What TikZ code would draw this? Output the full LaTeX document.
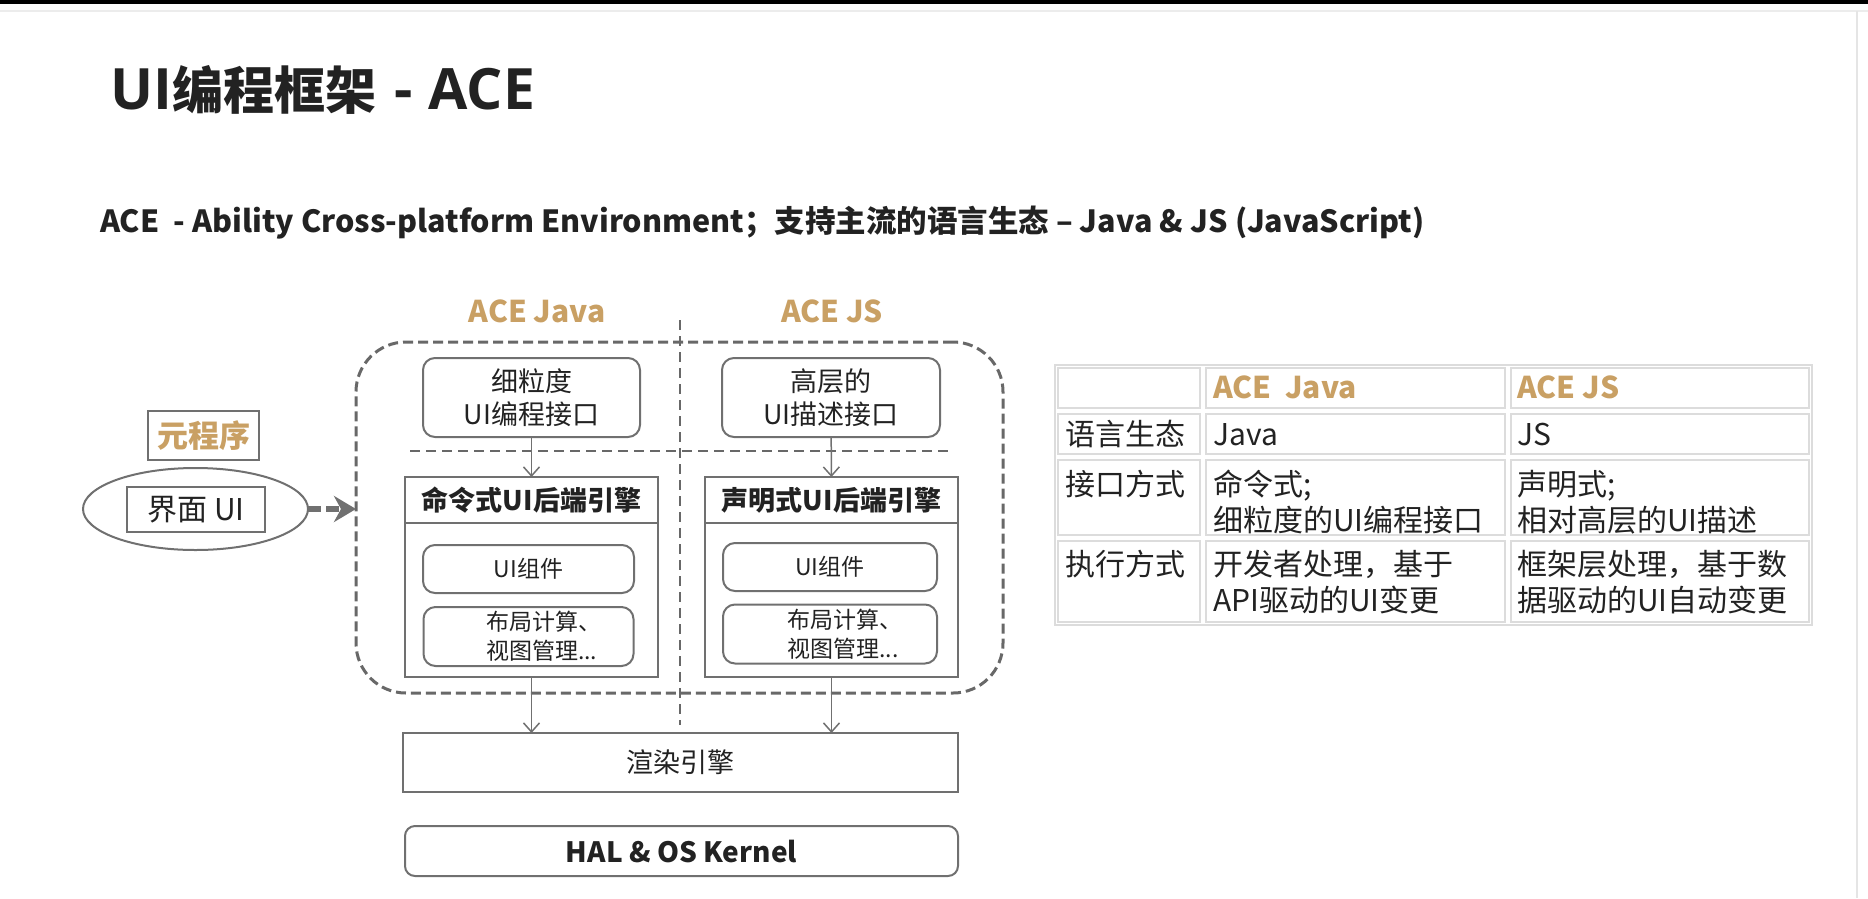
\documentclass[tikz,border=0pt]{standalone}
\usepackage{fontspec}
\setmainfont{Noto Sans CJK SC}
\newfontfamily\latinsans{Open Sans}
\usetikzlibrary{arrows.meta,shapes.geometric,positioning}

\definecolor{linegray}{HTML}{707070}
\definecolor{dashgray}{HTML}{686868}
\definecolor{acegold}{HTML}{C9A064}
\definecolor{cellgray}{HTML}{DCDCDC}
\definecolor{inkblack}{HTML}{222222}

\newcommand{\pxfont}[2]{\fontsize{#1}{#2}\selectfont}

\tikzset{
  box/.style={draw=linegray, line width=2pt, inner sep=0pt, outer sep=0pt, text=inkblack, align=center},
  roundbox/.style={box, rounded corners=12pt},
  dashline/.style={draw=dashgray, line width=2.5pt, dash pattern=on 10pt off 6pt},
  thinarrow/.style={draw=linegray, line width=1.5pt, -{Straight Barb[length=9pt,width=16pt]}},
  cell/.style={anchor=base west, inner sep=0pt, text=inkblack, font=\pxfont{30}{30}},
  cellline/.style={draw=cellgray, line width=1.5pt},
}

\begin{document}
\begin{tikzpicture}[x=1pt, y=-1pt]
    \path[use as bounding box] (0,0) rectangle (1868,898);

    % Slide frame
    \fill[black] (0,0) rectangle (1868,4);
    \draw[gray!15, line width=1.5pt] (0,11) -- (1868,11);
    \draw[gray!20, line width=1.5pt] (1857,11) -- (1857,898);

    % Title
    \node[anchor=west, inner sep=0pt, text=inkblack, font=\pxfont{51}{51}\bfseries] (title) at (110,90)
        {{\latinsans\pxfont{57}{57}UI}编程框架\hspace{18pt}{\latinsans\pxfont{57}{57}-\hspace{16pt}ACE}};
    \node[anchor=west, inner sep=0pt, text=inkblack, font=\pxfont{30.5}{31}\bfseries] (subtitle) at (100,223)
        {ACE \ - Ability Cross-platform Environment；支持主流的语言生态 – Java \& JS\hspace{8pt}(JavaScript)};

    % Column labels
    \node[font=\pxfont{30}{30}\bfseries, text=acegold] (javalabel) at (537,311) {ACE Java};
    \node[font=\pxfont{30}{30}\bfseries, text=acegold] (jslabel) at (832,311) {ACE JS};

    % ACE frame
    \node[draw=dashgray, line width=3pt, dash pattern=on 10pt off 5pt, rounded corners=50pt,
          minimum width=647, minimum height=351, inner sep=0pt, outer sep=0pt] (aceframe) at (679.5,517.5) {};
    \coordinate (divtop) at (680,320);
    \coordinate (divbot) at (680,725);
    \draw[dashline] (divtop) -- (divbot);
    \coordinate (layerl) at (410,451);
    \coordinate (layerr) at (953,451);
    \draw[dashline, line width=2pt] (layerl) -- (layerr);

    % API boxes
    \node[roundbox, minimum width=217, minimum height=79, font=\pxfont{27}{33}] (fineapi) at (531.5,397.5) {细粒度\\UI编程接口};
    \node[roundbox, minimum width=218, minimum height=79, font=\pxfont{27}{33}] (highapi) at (831,397.5) {高层的\\UI描述接口};

    % Imperative engine
    \node[box, minimum width=253, minimum height=46, font=\pxfont{27}{27}\bfseries] (imphead) at (531.5,500) {命令式UI后端引擎};
    \node[box, below=0pt of imphead, minimum width=253, minimum height=154] (impbody) {};
    \node[roundbox, minimum width=211, minimum height=48, font=\pxfont{23}{29}] (impwidget) at (528.5,569) {UI组件};
    \node[roundbox, minimum width=210, minimum height=59, font=\pxfont{23}{29}, align=left] (implayout) at (528.5,636.5)
        {\hspace*{30pt}布局计算、\\\hspace*{30pt}视图管理...};

    % Declarative engine
    \node[box, minimum width=253, minimum height=46, font=\pxfont{27}{27}\bfseries] (declhead) at (831.5,500) {声明式UI后端引擎};
    \node[box, below=0pt of declhead, minimum width=253, minimum height=154] (declbody) {};
    \node[roundbox, minimum width=214, minimum height=48, font=\pxfont{23}{29}] (declwidget) at (830,567) {UI组件};
    \node[roundbox, minimum width=214, minimum height=59, font=\pxfont{23}{29}, align=left] (decllayout) at (830,634)
        {\hspace*{30pt}布局计算、\\\hspace*{30pt}视图管理...};

    % Render and kernel
    \node[box, minimum width=555, minimum height=59, font=\pxfont{27}{27}] (render) at (680.5,762.5) {渲染引擎};
    \node[box, rounded corners=10pt, minimum width=553, minimum height=50, font=\pxfont{28}{28}\bfseries] (kernel) at (681.5,851) {HAL \& OS Kernel};

    % Meta program
    \node[box, minimum width=111, minimum height=49, font=\pxfont{31}{31}\bfseries, text=acegold] (metaprog) at (203.5,435.5) {元程序};
    \node[ellipse, draw=linegray, line width=2pt, minimum width=225, minimum height=82, inner sep=0pt, outer sep=0pt] (uishell) at (195.5,509) {};
    \node[box, minimum width=138, minimum height=45, font=\pxfont{30}{30}] (uiface) at (196,509.5) {界面 UI};

    % Arrows
    \draw[thinarrow] (fineapi) -- (imphead);
    \draw[thinarrow] (highapi) -- (declhead);
    \draw[thinarrow] (impbody.south) -- (impbody.south |- render.north);
    \draw[thinarrow] (declbody.south) -- (declbody.south |- render.north);
    \draw[draw=linegray, line width=6pt, dash pattern=on 13pt off 5pt, -{Stealth[length=22pt,width=26pt,inset=7pt]}]
        (uishell.east) -- (uishell.east -| aceframe.west);

    % Table grid
    \foreach \xa/\xb in {1055/1203, 1203/1508, 1508/1812}
        \foreach \ya/\yb in {365/411, 411/457, 457/538, 538/625}
            \draw[cellline] (\xa+3,\ya+3) rectangle (\xb-3,\yb-3);
    \draw[cellline] (1055,365) rectangle (1812,625);

    % Table header
    \node[cell, font=\pxfont{30}{30}\bfseries, text=acegold] (hjava) at (1213,398) {ACE\ \ Java};
    \node[cell, font=\pxfont{30}{30}\bfseries, text=acegold] (hjs) at (1517,398) {ACE JS};

    % Table rows
    \node[cell] (langkey) at (1065,445) {语言生态};
    \node[cell] (langjava) at (1213,445) {Java};
    \node[cell] (langjs) at (1517,445) {JS};

    \node[cell] (apikey) at (1065,495) {接口方式};
    \node[cell] (apijava) at (1213,495) {命令式;};
    \node[cell] (apijava2) at (1213,531) {细粒度的UI编程接口};
    \node[cell] (apijs) at (1517,495) {声明式;};
    \node[cell] (apijs2) at (1517,531) {相对高层的UI描述};

    \node[cell] (runkey) at (1065,575) {执行方式};
    \node[cell] (runjava) at (1213,575) {开发者处理，基于};
    \node[cell] (runjava2) at (1213,611) {API驱动的UI变更};
    \node[cell] (runjs) at (1517,575) {框架层处理，基于数};
    \node[cell] (runjs2) at (1517,611) {据驱动的UI自动变更};
\end{tikzpicture}
\end{document}
